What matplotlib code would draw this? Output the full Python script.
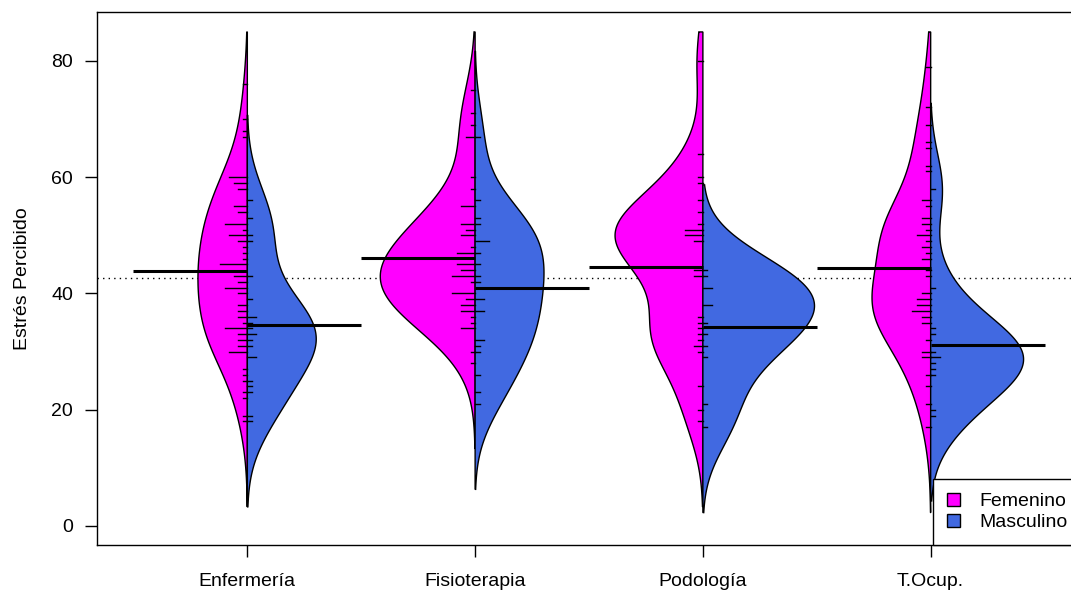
import matplotlib
matplotlib.use('Agg')
import matplotlib.pyplot as plt
from matplotlib.patches import Patch
import numpy as np

plt.rcParams['font.family'] = ['Liberation Sans', 'DejaVu Sans']

carreras = ['Enfermería', 'Fisioterapia', 'Podología', 'T.Ocup.']
sexos = ['Femenino', 'Masculino']
colores = ['#FF00FF', '#4169E1']

enf_fem_val = [76, 70, 68, 67, 60, 59, 58, 55, 54, 52, 51, 50, 49, 48, 47, 46, 45, 43, 42, 41,
               40, 38, 37, 36, 35, 34, 33, 32, 31, 30, 27, 26, 25, 23, 22, 19, 18]
enf_fem_n = [1, 1, 1, 1, 4, 3, 2, 3, 2, 5, 1, 4, 2, 1, 1, 1, 6, 3, 2, 5,
             2, 2, 2, 2, 1, 5, 2, 2, 2, 4, 1, 1, 1, 1, 1, 1, 1]
enf_mas_val = [56, 53, 50, 49, 43, 39, 36, 35, 34, 33, 32, 31, 29, 25, 24, 23, 19, 18]
enf_mas_n = [1, 1, 1, 1, 1, 1, 2, 1, 1, 2, 1, 1, 2, 1, 1, 1, 1, 1]

fis_fem_val = [75, 71, 69, 67, 60, 58, 55, 52, 51, 50, 48, 47, 45, 44, 43, 42, 40, 39, 38, 37,
               36, 35, 34, 30, 28]
fis_fem_n = [1, 1, 1, 2, 1, 1, 3, 3, 2, 3, 1, 4, 4, 3, 5, 1, 5, 2, 3, 3,
             1, 1, 3, 1, 1]
fis_mas_val = [67, 56, 53, 52, 49, 47, 45, 43, 42, 39, 37, 32, 31, 30, 26, 23, 21]
fis_mas_n = [1, 1, 1, 1, 3, 1, 1, 1, 1, 2, 2, 2, 1, 1, 1, 1, 1]

pod_fem_val = [80, 64, 60, 59, 56, 54, 52, 51, 50, 49, 44, 43, 36, 35, 34, 33, 32, 31, 30, 24,
               20, 18]
pod_fem_n = [1, 1, 1, 1, 1, 1, 1, 4, 4, 2, 2, 2, 1, 1, 1, 1, 1, 2, 1, 1,
             1, 1]
pod_mas_val = [44, 43, 41, 38, 35, 33, 31, 29, 21, 17]
pod_mas_n = [1, 1, 2, 2, 1, 1, 1, 1, 1, 1]

toc_fem_val = [79, 72, 69, 66, 65, 62, 61, 56, 55, 53, 52, 51, 50, 49, 48, 47, 46, 44, 43, 40,
               39, 38, 37, 36, 35, 32, 30, 29, 26, 24, 21, 17]
toc_fem_n = [1, 1, 1, 1, 1, 1, 1, 2, 1, 2, 2, 1, 3, 1, 2, 1, 2, 1, 1, 2,
             3, 3, 4, 2, 2, 1, 2, 2, 1, 1, 1, 1]
toc_mas_val = [58, 41, 34, 33, 30, 29, 28, 27, 26, 20, 19]
toc_mas_n = [1, 1, 1, 1, 1, 2, 1, 1, 1, 1, 1]

grupos = [
    [(enf_fem_val, enf_fem_n), (enf_mas_val, enf_mas_n)],
    [(fis_fem_val, fis_fem_n), (fis_mas_val, fis_mas_n)],
    [(pod_fem_val, pod_fem_n), (pod_mas_val, pod_mas_n)],
    [(toc_fem_val, toc_fem_n), (toc_mas_val, toc_mas_n)],
]

# ancho relativo de cada mitad (fem, mas), estimado del grafico
ajuste = [[0.67, 0.72], [0.92, 0.88], [1.03, 1.0], [0.77, 0.78]]

bw = 6.0
cut = 2.45
cutmax = 85


def densidad(x):
    y = np.linspace(x.min() - cut * bw, min(x.max() + cut * bw, cutmax), 512)
    d = np.exp(-0.5 * ((y[:, None] - x[None, :]) / bw) ** 2).sum(axis=1)
    d = d / (len(x) * bw * np.sqrt(2 * np.pi))
    return y, d


dens = []
todos = []
for i, g in enumerate(grupos):
    fila = []
    for k, (val, n) in enumerate(g):
        x = np.repeat(np.array(val, float), n)
        todos.append(x)
        y, d = densidad(x)
        fila.append((y, d * ajuste[i][k]))
    dens.append(fila)

maxd = max(d.max() for fila in dens for _, d in fila)
ancho = 0.49 / maxd
unidad = 0.02

fig = plt.figure(figsize=(10.71, 5.91), dpi=100)
ax = fig.add_axes([97 / 1071, 46 / 591, 984 / 1071, 533 / 591])

media_total = np.concatenate(todos).mean()
ax.axhline(media_total, color='black', lw=1, ls=(0, (1, 3)), zorder=1)

for i, g in enumerate(grupos):
    pos = i + 1
    for k, (val, n) in enumerate(g):
        signo = -1 if k == 0 else 1
        y, d = dens[i][k]
        xs = np.concatenate([[pos], pos + signo * d * ancho, [pos]])
        ys = np.concatenate([[y[0]], y, [y[-1]]])
        ax.fill(xs, ys, facecolor=colores[k], edgecolor='black', lw=1, zorder=2)
        for v, c in zip(val, n):
            ax.plot([pos, pos + signo * c * unidad], [v, v], color='black', lw=1, zorder=3)
        m = np.mean(np.repeat(val, n))
        ax.plot([pos, pos + signo * 0.5], [m, m], color='black', lw=2.2, zorder=4,
                solid_capstyle='butt')

ax.set_xlim(0.34, 4.66)
ax.set_ylim(-3.27, 88.43)
ax.set_xticks(range(1, 5))
ax.set_xticklabels(carreras)
ax.set_yticks([0, 20, 40, 60, 80])
ax.tick_params(direction='out', length=8.5, width=1, labelsize=14, colors='black')
ax.tick_params(axis='x', pad=11.5)
ax.tick_params(axis='y', pad=8.6)
ax.set_ylabel('Estrés Percibido', fontsize=14, labelpad=15)
for s in ax.spines.values():
    s.set_linewidth(1)

handles = [Patch(facecolor=colores[0], edgecolor='black'),
           Patch(facecolor=colores[1], edgecolor='black')]
leg = ax.legend(handles, sexos, loc='lower right', bbox_to_anchor=(1, 0), borderaxespad=0,
                fancybox=False, edgecolor='black', framealpha=1, fontsize=14,
                handlelength=0.65, handleheight=0.65, handletextpad=1.0, borderpad=0.7,
                labelspacing=0.2)
leg.get_frame().set_linewidth(1)

fig.savefig('out.png', dpi=100)
